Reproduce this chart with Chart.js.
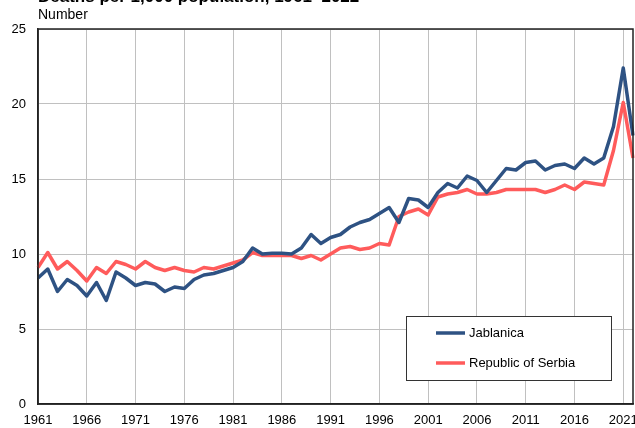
<!DOCTYPE html>
<html>
<head>
  <title>Deaths per 1,000 population</title>
  <script src="https://cdn.jsdelivr.net/npm/chart.js@4.4.1/dist/chart.umd.min.js"></script>
  <style>
    html, body { margin: 0; padding: 0; background: #fff; overflow: hidden; }
    #wrap { position: relative; width: 635px; height: 428px; overflow: hidden; }
    .title {
      position: absolute; left: 38px; top: -13px;
      font: bold 17px "Liberation Sans", Arial, sans-serif; line-height: 20px;
      white-space: nowrap;
    }
    .unit {
      position: absolute; left: 38px; top: 6px;
      font: 14px "Liberation Sans", Arial, sans-serif; line-height: 16px;
    }
    canvas { position: absolute; left: 0; top: 0; }
  </style>
</head>
<body>
<div id="wrap">
  <!-- canvas a bit wider than the window: the right edge is cut like in the source -->
  <canvas id="myChart" width="642" height="428"></canvas>
  <div class="title">Deaths per 1,000 population, 1961–2022</div>
  <div class="unit">Number</div>
</div>

<script>
// years 1961..2022
const years = [];
for (let y = 1961; y <= 2022; y++) years.push(String(y));

const jablanica = [
  8.4, 9.0, 7.5, 8.3, 7.9, 7.2, 8.1, 6.9, 8.8, 8.4,
  7.9, 8.1, 8.0, 7.5, 7.8, 7.7, 8.3, 8.6, 8.7, 8.9,
  9.1, 9.5, 10.4, 10.0, 10.05, 10.05, 10.0, 10.4, 11.3, 10.7,
  11.1, 11.3, 11.8, 12.1, 12.3, 12.7, 13.1, 12.1, 13.7, 13.6,
  13.1, 14.1, 14.7, 14.4, 15.2, 14.9, 14.1, 14.9, 15.7, 15.6,
  16.1, 16.2, 15.6, 15.9, 16.0, 15.7, 16.4, 16.0, 16.4, 18.5,
  22.4, 17.9
];

const serbia = [
  9.1, 10.1, 9.0, 9.5, 8.9, 8.2, 9.1, 8.7, 9.5, 9.3,
  9.0, 9.5, 9.1, 8.9, 9.1, 8.9, 8.8, 9.1, 9.0, 9.2,
  9.4, 9.6, 10.1, 9.9, 9.9, 9.9, 9.9, 9.7, 9.9, 9.6,
  10.0, 10.4, 10.5, 10.3, 10.4, 10.7, 10.6, 12.5, 12.8, 13.0,
  12.6, 13.8, 14.0, 14.1, 14.3, 14.0, 14.0, 14.1, 14.3, 14.3,
  14.3, 14.3, 14.1, 14.3, 14.6, 14.3, 14.8, 14.7, 14.6, 16.9,
  20.1, 16.4
];

const seriesNames = ['Jablanica', 'Republic of Serbia'];
const seriesColors = ['#2e5283', '#ff5b5b'];

const FONT = '"Liberation Sans", Arial, sans-serif';

// frame round the plot and the legend box inside it
const framePlugin = {
  id: 'frame',
  afterDatasetsDraw(chart) {
    const { ctx, chartArea: a } = chart;
    ctx.save();
    ctx.strokeStyle = '#222';
    ctx.lineWidth = 1.5;
    ctx.strokeRect(a.left, a.top, a.right - a.left, a.bottom - a.top);

    // legend
    const bx = 406, by = 316, bw = 205, bh = 64;
    ctx.fillStyle = '#fff';
    ctx.fillRect(bx, by, bw, bh);
    ctx.strokeStyle = '#333';
    ctx.lineWidth = 1;
    ctx.strokeRect(bx + 0.5, by + 0.5, bw, bh);
    ctx.font = '13px ' + FONT;
    ctx.textBaseline = 'middle';
    chart.data.datasets.forEach((ds, i) => {
      const y = by + 17 + i * 30;
      ctx.strokeStyle = ds.borderColor;
      ctx.lineWidth = 3.5;
      ctx.beginPath();
      ctx.moveTo(436, y);
      ctx.lineTo(465, y);
      ctx.stroke();
      ctx.fillStyle = '#000';
      ctx.fillText(ds.label, 469, y);
    });
    ctx.restore();
  }
};

new Chart('myChart', {
  type: 'line',
  data: {
    labels: years,
    datasets: [
      { label: seriesNames[0], data: jablanica, borderColor: seriesColors[0], backgroundColor: seriesColors[0] },
      { label: seriesNames[1], data: serbia, borderColor: seriesColors[1], backgroundColor: seriesColors[1] }
    ]
  },
  options: {
    responsive: false,
    animation: false,
    layout: { padding: { top: 29, right: 0, left: 0, bottom: 0 } },
    elements: {
      point: { radius: 0 },
      line: { borderWidth: 3.5, tension: 0, borderJoinStyle: 'round' }
    },
    plugins: {
      legend: { display: false },
      tooltip: { enabled: false }
    },
    scales: {
      x: {
        afterFit(scale) { scale.height = 24; },
        grid: {
          drawTicks: false,
          color: ctx => (ctx.index % 5 === 0 ? '#c0c0c0' : 'rgba(0,0,0,0)')
        },
        border: { color: '#222', width: 1.5 },
        ticks: {
          autoSkip: false,
          maxRotation: 0,
          padding: 9,
          color: '#000',
          font: { family: FONT, size: 13 },
          callback: function (val, i) { return i % 5 === 0 ? this.getLabelForValue(val) : ''; }
        }
      },
      y: {
        min: 0,
        max: 25,
        afterFit(scale) { scale.width = 38; },
        grid: { drawTicks: false, color: '#c0c0c0' },
        border: { color: '#222', width: 1.5 },
        ticks: {
          stepSize: 5,
          padding: 12,
          color: '#000',
          font: { family: FONT, size: 13 }
        }
      }
    }
  },
  plugins: [framePlugin]
});
</script>
</body>
</html>
